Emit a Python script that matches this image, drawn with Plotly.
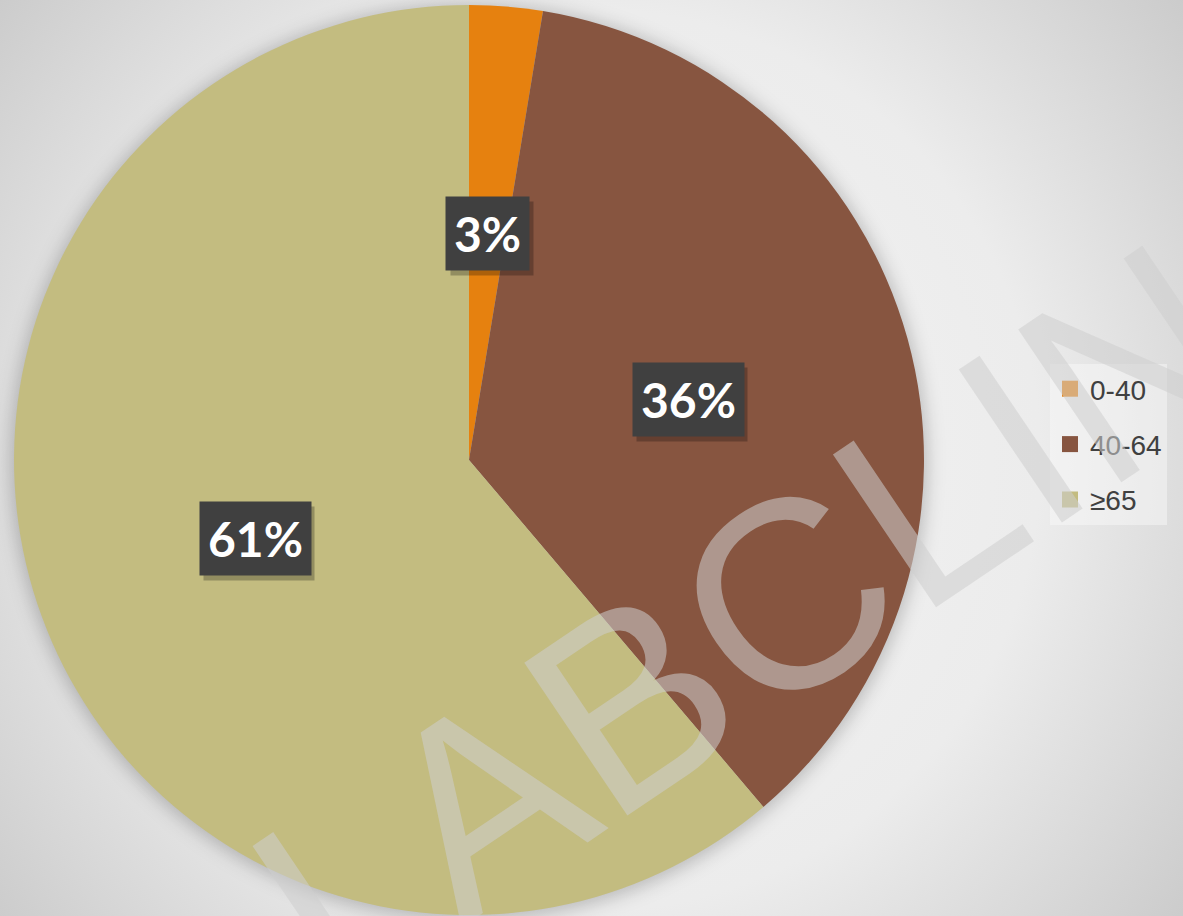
import math
import base64
import plotly.graph_objects as go

# ---- data ----
categories = ["0-40", "40-64", "≥65"]
values = [2.6, 36.2, 61.2]
slice_colors = ["#E6810F", "#875540", "#C3BC80"]
watermark = "LABCLIN"

W, H = 1183, 916
# pie domain in pixels (left, right, top, bottom)
px_l, px_r, px_t, px_b = 14, 924, 5, 915
dom_x = [px_l / W, px_r / W]
dom_y = [1 - px_b / H, 1 - px_t / H]
cx, cy = (px_l + px_r) / 2, (px_t + px_b) / 2
R = min(px_r - px_l, px_b - px_t) / 2

# background: radial gradient + pie shadow as an svg
svg = f'''<svg xmlns="http://www.w3.org/2000/svg" width="{W}" height="{H}" viewBox="0 0 {W} {H}">
<defs>
<radialGradient id="g" cx="{cx+120}" cy="{cy}" r="820" gradientUnits="userSpaceOnUse">
<stop offset="0" stop-color="#f5f5f5"/>
<stop offset="0.55" stop-color="#ececec"/>
<stop offset="1" stop-color="#c4c4c4"/>
</radialGradient>
<filter id="b" x="-20%" y="-20%" width="140%" height="140%"><feGaussianBlur stdDeviation="9"/></filter>
</defs>
<rect width="{W}" height="{H}" fill="url(#g)"/>
<circle cx="{cx}" cy="{cy+2}" r="{R+3}" fill="rgba(0,0,0,0.22)" filter="url(#b)"/>
</svg>'''
bg_uri = "data:image/svg+xml;base64," + base64.b64encode(svg.encode()).decode()

fig = go.Figure()
fig.add_trace(go.Pie(
    labels=categories, values=values, sort=False, direction="clockwise",
    rotation=0, marker=dict(colors=slice_colors, line=dict(width=0)),
    textinfo="none", hoverinfo="label+percent", showlegend=False,
    domain=dict(x=dom_x, y=dom_y),
))
# legend entries (square swatches)
for name, col in zip(categories, slice_colors):
    fig.add_trace(go.Scatter(
        x=[None], y=[None], mode="markers", name=name, legendgroup=name,
        marker=dict(symbol="square", size=18, color=col), hoverinfo="skip",
    ))

annotations = []
# watermark
annotations.append(dict(
    text=watermark, x=748 / W, y=1 - 622 / H, xref="paper", yref="paper",
    xanchor="center", yanchor="middle",
    showarrow=False, textangle=-34,
    font=dict(family="Liberation Sans, Arial", size=268, color="rgba(205,205,205,0.55)"),
))

# data labels at half radius along each slice's mid angle
total = sum(values)
cum = 0.0
for v in values:
    mid = (cum + v / 2) / total * 2 * math.pi
    cum += v
    lx = cx + 0.5 * R * math.sin(mid)
    ly = cy - 0.5 * R * math.cos(mid)
    txt = f"{round(v / total * 100)}%"
    common = dict(x=lx / W, y=1 - ly / H, xref="paper", yref="paper", showarrow=False,
                  xanchor="center", yanchor="middle", text=txt, borderpad=8)
    annotations.append(dict(common, font=dict(family="Lato", size=48, color="rgba(0,0,0,0)"),
                            bgcolor="rgba(0,0,0,0.25)", xshift=4, yshift=-5))
    annotations.append(dict(common, font=dict(family="Lato", size=48, color="white", weight="bold"),
                            bgcolor="#404040"))

fig.update_layout(
    width=W, height=H, margin=dict(l=0, r=0, t=0, b=0),
    paper_bgcolor="#e8e8e8", plot_bgcolor="rgba(0,0,0,0)",
    xaxis=dict(visible=False), yaxis=dict(visible=False),
    images=[dict(source=bg_uri, xref="paper", yref="paper", x=0, y=1, sizex=1, sizey=1,
                 xanchor="left", yanchor="top", sizing="stretch", layer="below")],
    showlegend=True,
    legend=dict(x=1050 / W, y=1 - 364 / H, xanchor="left", yanchor="top",
                bgcolor="rgba(250,250,250,0.45)", tracegroupgap=16,
                font=dict(family="Liberation Sans, Arial", size=28, color="#404040"),
                itemclick=False, itemdoubleclick=False),
    annotations=annotations,
)

fig.write_html("out.html", config={"displayModeBar": False},
               post_script="document.body.style.margin='0';")
